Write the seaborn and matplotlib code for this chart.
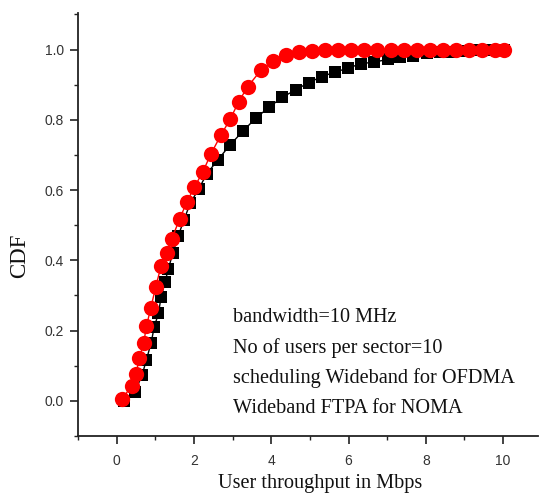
import numpy as np
import pandas as pd
import seaborn as sns
import matplotlib.pyplot as plt
from matplotlib.ticker import MultipleLocator

# CDF curves
ofdma_x = [0.18, 0.47, 0.66, 0.77, 0.89, 0.97, 1.08, 1.15, 1.25, 1.34, 1.45, 1.59,
           1.74, 1.91, 2.12, 2.33, 2.62, 2.93, 3.27, 3.61, 3.95, 4.28, 4.63, 4.97,
           5.31, 5.65, 5.99, 6.32, 6.66, 7.01, 7.34, 7.67, 8.02, 8.36, 8.69, 9.04,
           9.37, 9.71, 10.03]
ofdma_y = [0.001, 0.025, 0.074, 0.117, 0.164, 0.209, 0.249, 0.295, 0.338, 0.376, 0.420, 0.468,
           0.515, 0.564, 0.602, 0.646, 0.686, 0.728, 0.768, 0.806, 0.836, 0.864, 0.885, 0.906,
           0.923, 0.936, 0.947, 0.960, 0.964, 0.972, 0.978, 0.982, 0.989, 0.992, 0.993, 0.996,
           0.998, 1.000, 1.000]

noma_x = [0.13, 0.39, 0.50, 0.59, 0.70, 0.77, 0.88, 1.01, 1.15, 1.31, 1.43, 1.63,
          1.82, 2.01, 2.23, 2.44, 2.70, 2.94, 3.16, 3.39, 3.73, 4.04, 4.38, 4.72,
          5.05, 5.39, 5.74, 6.07, 6.41, 6.75, 7.09, 7.43, 7.77, 8.10, 8.44, 8.78,
          9.12, 9.46, 9.79, 10.03]
noma_y = [0.006, 0.041, 0.077, 0.123, 0.165, 0.212, 0.263, 0.324, 0.384, 0.420, 0.462, 0.518,
          0.567, 0.608, 0.652, 0.703, 0.757, 0.802, 0.852, 0.894, 0.941, 0.968, 0.985, 0.992,
          0.997, 0.998, 1.000, 1.000, 1.000, 1.000, 1.000, 1.000, 1.000, 1.000, 1.000, 1.000,
          1.000, 1.000, 1.000, 1.000]

notes = ["bandwidth=10 MHz",
         "No of users per sector=10",
         "scheduling Wideband for OFDMA",
         "Wideband FTPA for NOMA"]

sns.set_theme(style="ticks")
plt.rcParams['font.family'] = ['Liberation Sans', 'DejaVu Sans']

fig = plt.figure(figsize=(5.41, 4.95), dpi=100)
ax = fig.add_axes([0.1442, 0.1192, 0.850, 0.8545])

sns.lineplot(x=ofdma_x, y=ofdma_y, ax=ax, color="black", marker="s", markersize=9,
             markeredgewidth=0, linewidth=1.0, sort=False)
sns.lineplot(x=noma_x, y=noma_y, ax=ax, color="red", marker="o", markersize=11,
             markeredgewidth=0, linewidth=1.0, sort=False)

ax.set_xlim(-1.0, 10.9)
ax.set_ylim(-0.1, 1.104)
ax.xaxis.set_minor_locator(MultipleLocator(1))
ax.yaxis.set_minor_locator(MultipleLocator(0.1))
ax.set_xticks(np.arange(0, 11, 2))
ax.set_yticks(np.arange(0, 1.01, 0.2))
ax.set_yticklabels([f"{v:.1f}" for v in np.arange(0, 1.01, 0.2)])
ax.tick_params(which="major", direction="out", length=6, width=1.2,
               labelsize=10, labelcolor="#333333", color="#222222")
ax.tick_params(axis="x", which="major", pad=7)
ax.tick_params(axis="y", which="major", pad=4)
ax.tick_params(which="minor", direction="out", length=3, width=1.0, color="#222222")
sns.despine(ax=ax)
for s in ["left", "bottom"]:
    ax.spines[s].set_linewidth(1.3)
    ax.spines[s].set_color("#222222")

serif = ['Liberation Serif', 'DejaVu Serif']
ax.set_xlabel("User throughput in Mbps", family=serif, fontsize=14.6, color="#111111")
ax.set_ylabel("CDF", family=serif, fontsize=16.5, color="#111111")
ax.xaxis.set_label_coords(0.527, -0.091)
ax.yaxis.set_label_coords(-0.104, 0.425)

for i, line in enumerate(notes):
    ax.text(3.0, 0.236 - i * 0.086, line, family=serif, fontsize=14.6,
            color="#111111", va="center", ha="left")

plt.savefig("out.png", dpi=100)
plt.close()
